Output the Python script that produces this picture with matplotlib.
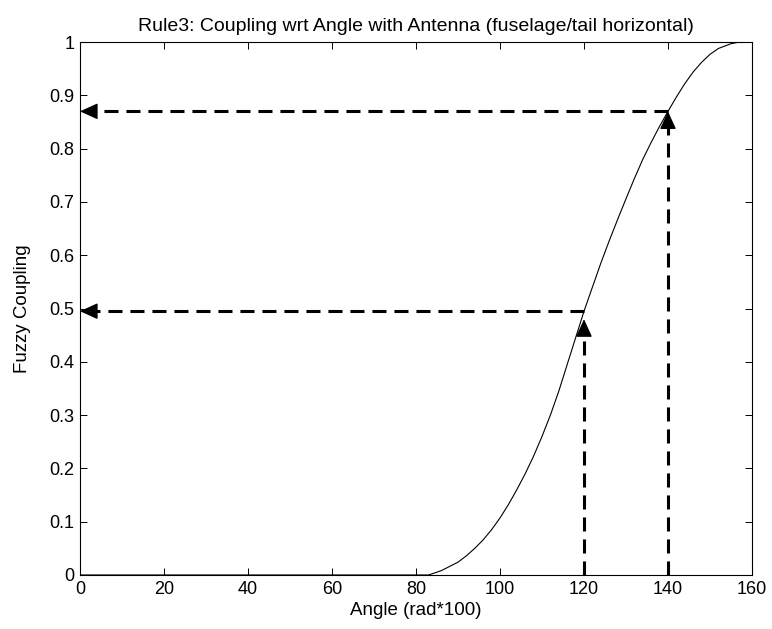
import numpy as np
from matplotlib import pyplot as plt

# membership curve
angle = [0, 83, 86, 88, 90, 92, 94, 96, 98, 100, 102, 104, 106, 108, 110, 112,
         114, 116, 118, 120, 122, 124, 126, 128, 130, 132, 134, 136, 138, 140,
         142, 144, 146, 148, 150, 152, 155, 157, 160]
coupling = [0, 0, 0.008, 0.016, 0.024, 0.036, 0.05, 0.066, 0.085, 0.107, 0.132,
            0.16, 0.19, 0.223, 0.26, 0.30, 0.345, 0.395, 0.445, 0.495, 0.54,
            0.585, 0.627, 0.667, 0.706, 0.744, 0.78, 0.812, 0.842, 0.87,
            0.897, 0.922, 0.944, 0.962, 0.977, 0.988, 0.997, 1, 1]

# the two lookups shown with dashed arrows
look_x = [120, 140]
look_y = [0.495, 0.87]
head_y = [0.48, 0.87]

xticks = list(range(0, 161, 20))
yticks = [0, 0.1, 0.2, 0.3, 0.4, 0.5, 0.6, 0.7, 0.8, 0.9, 1]

plt.rcParams['font.family'] = ['Liberation Sans', 'DejaVu Sans']

fig = plt.figure(figsize=(7.72, 6.29), dpi=100)
ax = fig.add_axes([0.1036, 0.0859, 0.8705, 0.8472])

ax.plot(angle, coupling, color='black', lw=0.8)

dash = (0, (4.6, 2.6))
head = dict(arrowstyle='-|>,head_length=1.1,head_width=0.5', color='black',
            lw=1, shrinkA=0, shrinkB=0, mutation_scale=10)
for x, y, hy in zip(look_x, look_y, head_y):
    # horizontal: from curve back to the y axis
    ax.plot([x, 3.5], [y, y], color='black', lw=2.2, ls=dash)
    ax.annotate('', xy=(0, y), xytext=(3.6, y), arrowprops=head)
    # vertical: from x axis up to the curve
    ax.plot([x, x], [0, hy - 0.03], color='black', lw=2.2, ls=dash)
    ax.annotate('', xy=(x, hy), xytext=(x, hy - 0.03), arrowprops=head)

ax.set_xlim(0, 160)
ax.set_ylim(0, 1)
ax.set_xticks(xticks)
ax.set_yticks(yticks)
ax.set_yticklabels(['0', '0.1', '0.2', '0.3', '0.4', '0.5', '0.6', '0.7', '0.8', '0.9', '1'])
ax.tick_params(direction='in', length=5, width=0.7, top=True, right=True,
               labelsize=13, pad=4)
for s in ax.spines.values():
    s.set_linewidth(0.8)

ax.set_xlabel('Angle (rad*100)', fontsize=13.5, labelpad=3)
ax.set_ylabel('Fuzzy Coupling', fontsize=13.5, labelpad=13)
ax.set_title('Rule3: Coupling wrt Angle with Antenna (fuselage/tail horizontal)',
             fontsize=14, pad=8)

fig.savefig('out.png', dpi=100)
